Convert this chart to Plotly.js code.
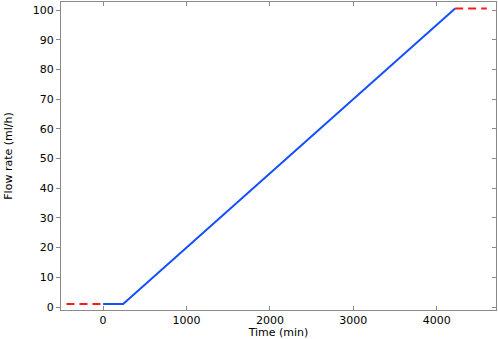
<!DOCTYPE html>
<html>
<head>
<meta charset="utf-8">
<script src="https://cdn.plot.ly/plotly-3.0.1.min.js"></script>
<style>html,body{margin:0;padding:0;background:#fff;}#chart{width:498px;height:339px;}</style>
</head>
<body>
<div id="chart"></div>
<script>
// flow ramp (blue) and constant extensions (red dashed)
const rampTime = [0, 240, 4220];
const rampFlow = [1, 1, 100.5];
const preTime = [-440, 0];
const preFlow = [1, 1];
const postTime = [4220, 4600];
const postFlow = [100.5, 100.5];

const axisColor = "#8a8a8a";
const font = { family: "DejaVu Sans", size: 11, color: "#000" };

const traces = [
  { x: preTime, y: preFlow, mode: "lines", type: "scatter",
    line: { color: "#ff1a1a", width: 2, dash: "8px,5px" }, hoverinfo: "none" },
  { x: rampTime, y: rampFlow, mode: "lines", type: "scatter",
    line: { color: "#1450ff", width: 2 }, hoverinfo: "none" },
  { x: postTime, y: postFlow, mode: "lines", type: "scatter",
    line: { color: "#ff1a1a", width: 2, dash: "8px,5px" }, hoverinfo: "none" },
  // invisible trace to drive the right-side inward ticks
  { x: [0], y: [0], yaxis: "y2", mode: "markers", marker: { opacity: 0 }, hoverinfo: "none" }
];

const layout = {
  width: 498, height: 339,
  margin: { l: 61, r: 2, t: 2, b: 29 },
  showlegend: false,
  plot_bgcolor: "#fff", paper_bgcolor: "#fff",
  font: font,
  xaxis: {
    range: [-505, 4710], tickvals: [0, 1000, 2000, 3000, 4000],
    ticks: "inside", ticklen: 4, tickcolor: axisColor,
    showline: true, linecolor: axisColor, linewidth: 1, mirror: "ticks",
    showgrid: false, zeroline: false,
    title: { text: "Time (min)", font: font, standoff: 2 },
    automargin: false
  },
  yaxis: {
    range: [-1, 102.7], tickvals: [0, 10, 20, 30, 40, 50, 60, 70, 80, 90, 100],
    ticks: "outside", ticklen: 4, tickcolor: axisColor,
    showline: true, linecolor: axisColor, linewidth: 1, mirror: true,
    showgrid: false, zeroline: false,
    title: { text: "Flow rate (ml/h)", font: font, standoff: 17 },
    automargin: false
  },
  yaxis2: {
    overlaying: "y", side: "right", range: [-1, 102.7],
    tickvals: [0, 10, 20, 30, 40, 50, 60, 70, 80, 90, 100],
    ticks: "inside", ticklen: 4, tickcolor: axisColor,
    showticklabels: false, showline: false, showgrid: false, zeroline: false
  }
};

Plotly.newPlot("chart", traces, layout, { staticPlot: true });
</script>
</body>
</html>
